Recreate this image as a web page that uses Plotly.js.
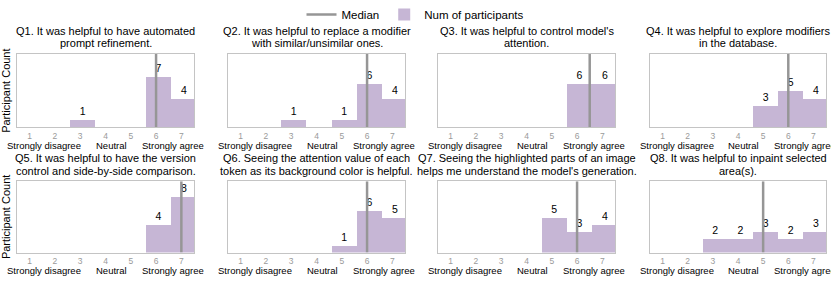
<!DOCTYPE html>
<html>
<head>
<meta charset="utf-8">
<script src="https://cdn.plot.ly/plotly-3.0.1.min.js"></script>
<style>html,body{margin:0;padding:0;background:#fff;}#chart{width:831px;height:281px;}</style>
</head>
<body>
<div id="chart"></div>
<script>
// ---- data ----
const categories = [1, 2, 3, 4, 5, 6, 7];
const tickLabels = ['1', '2', '3', '4', '5', '6', '7'];
const titleLine1 = [
  "Q1. It was helpful to have automated",
  "Q2. It was helpful to replace a modifier",
  "Q3. It was helpful to control model's",
  "Q4. It was helpful to explore modifiers",
  "Q5. It was helpful to have the version",
  "Q6. Seeing the attention value of each",
  "Q7. Seeing the highlighted parts of an image",
  "Q8. It was helpful to inpaint selected"
];
const titleLine2 = [
  "prompt refinement.",
  "with similar/unsimilar ones.",
  "attention.",
  "in the database.",
  "control and side-by-side comparison.",
  "token as its background color is helpful.",
  "helps me understand the model's generation.",
  "area(s)."
];
const q1 = [0, 0, 1, 0, 0, 7, 4];
const q2 = [0, 0, 1, 0, 1, 6, 4];
const q3 = [0, 0, 0, 0, 0, 6, 6];
const q4 = [0, 0, 0, 0, 3, 5, 4];
const q5 = [0, 0, 0, 0, 0, 4, 8];
const q6 = [0, 0, 0, 0, 1, 6, 5];
const q7 = [0, 0, 0, 0, 5, 3, 4];
const q8 = [0, 0, 2, 2, 3, 2, 3];
const counts = [q1, q2, q3, q4, q5, q6, q7, q8];
const medians = [6, 6, 6.5, 6, 7, 6, 6, 5];
const scaleLabels = ['Strongly disagree', 'Neutral', 'Strongly agree'];
const scaleLabelPos = [1.58, 4.22, 6.65];
const yMax = 10.2;

// ---- styling / layout ----
const W = 831, H = 281;
const colPx = [[17, 194], [228, 405], [438, 615], [650, 826]];
const rowPx = [[49, 124], [179, 252]];
const barColor = 'rgb(198,182,213)';
const medColor = 'rgb(150,150,150)';
const FONT = 'Liberation Sans, Arial, Helvetica, sans-serif';

const data = [];
const layout = {
  width: W, height: H,
  margin: {l: 0, r: 0, t: 0, b: 0},
  paper_bgcolor: '#fff', plot_bgcolor: '#fff',
  font: {family: FONT, color: '#000', size: 11},
  bargap: 0,
  showlegend: true,
  legend: {orientation: 'h', x: 0.5, xanchor: 'center', y: 1.022, yanchor: 'top',
           font: {size: 11.5, family: FONT}, itemwidth: 30, tracegroupgap: 0},
  annotations: []
};

// median traces first (legend order)
for (let i = 0; i < 8; i++) {
  const s = i === 0 ? '' : String(i + 1);
  data.push({
    type: 'scatter', mode: 'lines',
    x: [medians[i], medians[i]], y: [0, yMax],
    xaxis: 'x' + s, yaxis: 'y' + s,
    line: {color: medColor, width: 2.5},
    name: 'Median', showlegend: i === 0, hoverinfo: 'skip'
  });
}
for (let i = 0; i < 8; i++) {
  const s = i === 0 ? '' : String(i + 1);
  const xs = [], ys = [], ts = [];
  categories.forEach((c, k) => { if (counts[i][k] > 0) { xs.push(c); ys.push(counts[i][k]); ts.push(String(counts[i][k])); } });
  data.push({
    type: 'bar', x: xs, y: ys, text: ts,
    textposition: 'outside', cliponaxis: false,
    textfont: {size: 10.5, color: '#000', family: FONT},
    width: 1, offset: -0.4,
    marker: {color: barColor, line: {width: 0}},
    xaxis: 'x' + s, yaxis: 'y' + s,
    name: 'Num of participants', showlegend: i === 0
  });
}

for (let i = 0; i < 8; i++) {
  const s = i === 0 ? '' : String(i + 1);
  const col = i % 4, row = Math.floor(i / 4);
  const xd = [colPx[col][0] / W, colPx[col][1] / W];
  const yd = [1 - rowPx[row][1] / H, 1 - rowPx[row][0] / H];
  layout['xaxis' + s] = {
    domain: xd, anchor: 'y' + s, range: [0.5, 7.5],
    tickmode: 'array', tickvals: categories, ticktext: tickLabels,
    tickfont: {size: 8.5, color: '#9a9a9a', family: FONT},
    ticks: '', ticklen: 0, showgrid: false, zeroline: false,
    showline: true, mirror: true, linecolor: '#c4c4c4', linewidth: 1,
    fixedrange: true
  };
  layout['yaxis' + s] = {
    domain: yd, anchor: 'x' + s, range: [0, yMax],
    showticklabels: false, ticks: '', showgrid: false, zeroline: false,
    showline: true, mirror: true, linecolor: '#c4c4c4', linewidth: 1,
    title: col === 0 ? {text: 'Participant Count', font: {size: 11, family: FONT}, standoff: 4} : {text: ''},
    fixedrange: true
  };
  const cx = (xd[0] + xd[1]) / 2;
  layout.annotations.push({
    xref: 'paper', yref: 'paper', x: cx, y: yd[1],
    xanchor: 'center', yanchor: 'middle', yshift: 23, showarrow: false,
    text: titleLine1[i], font: {size: 11, family: FONT, color: '#000'}
  });
  layout.annotations.push({
    xref: 'paper', yref: 'paper', x: cx, y: yd[1],
    xanchor: 'center', yanchor: 'middle', yshift: 10.5, showarrow: false,
    text: titleLine2[i], font: {size: 11, family: FONT, color: '#000'}
  });
  scaleLabels.forEach((t, k) => {
    layout.annotations.push({
      xref: 'x' + s, yref: 'paper', x: scaleLabelPos[k], y: yd[0],
      xanchor: 'center', yanchor: 'middle', yshift: -18, showarrow: false,
      text: t, font: {size: 9.5, family: FONT, color: '#000'}
    });
  });
}

Plotly.newPlot('chart', data, layout, {displayModeBar: false, staticPlot: true});
</script>
</body>
</html>
